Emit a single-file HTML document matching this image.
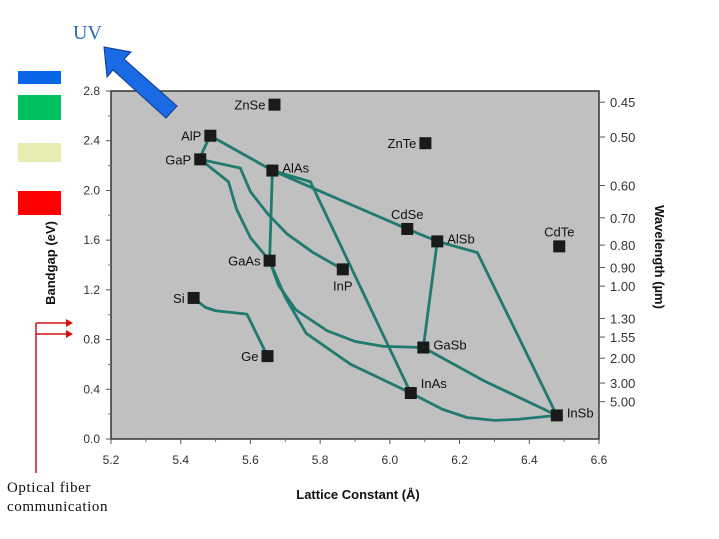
<!DOCTYPE html>
<html><head><meta charset="utf-8"><style>
body{margin:0;background:#fff;width:719px;height:539px;overflow:hidden}
svg{display:block}
</style></head><body>
<svg id="chart" width="719" height="539" font-family="Liberation Sans, Arial, sans-serif">
<rect x="18" y="71" width="43" height="13" fill="#0a66e8"/>
<rect x="18" y="95" width="43" height="25" fill="#00c060"/>
<rect x="18" y="143" width="43" height="19" fill="#e8ecb0"/>
<rect x="18" y="191" width="43" height="24" fill="#ff0000"/>
<text x="73" y="39" font-family="Liberation Serif, serif" font-size="20" fill="#2a6db5">UV</text>
<g stroke="#d01010" stroke-width="1.5" fill="#d01010">
<line x1="36" y1="323" x2="36" y2="473"/>
<line x1="36" y1="323" x2="66" y2="323"/><polygon points="66,319 73,323 66,327" stroke="none"/>
<line x1="36" y1="334" x2="66" y2="334"/><polygon points="66,330 73,334 66,338" stroke="none"/>
</g>
<text font-family="Liberation Serif, serif" font-size="15" letter-spacing="0.6" fill="#111"><tspan x="7" y="492">Optical fiber</tspan><tspan x="7" y="511">communication</tspan></text>
<rect x="111" y="91" width="488" height="348" fill="#c0c0c0" stroke="#333" stroke-width="1.5"/>
<g id="axes"></g>
<g id="curves"></g>
<g id="points"></g>
<polygon points="104,47 131,52 124,59 177,106 166,118 113,70 107,77" fill="#1a6ae6" stroke="#0d3c90" stroke-width="1"/>
<text transform="translate(55,263) rotate(-90)" text-anchor="middle" font-size="13" font-weight="bold" fill="#111">Bandgap (eV)</text>
<text transform="translate(655,257) rotate(90)" text-anchor="middle" font-size="13" font-weight="bold" fill="#111">Wavelength (µm)</text>
<text x="358" y="499" text-anchor="middle" font-size="13" font-weight="bold" fill="#111">Lattice Constant (Å)</text>
</svg>
<script>
const xTicks=[5.2,5.4,5.6,5.8,6.0,6.2,6.4,6.6];
const yTicks=[0.0,0.4,0.8,1.2,1.6,2.0,2.4,2.8];
const wlLabels=["0.45","0.50","0.60","0.70","0.80","0.90","1.00","1.30","1.55","2.00","3.00","5.00"];
const wlPos=[2.71,2.43,2.04,1.78,1.56,1.38,1.23,0.97,0.82,0.65,0.45,0.30];
const names=["ZnSe","AlP","GaP","AlAs","ZnTe","CdSe","AlSb","CdTe","GaAs","InP","Si","Ge","GaSb","InAs","InSb"];
const lattice=[5.669,5.485,5.456,5.663,6.102,6.05,6.136,6.486,5.655,5.865,5.437,5.649,6.096,6.06,6.479];
const gap=[2.69,2.44,2.25,2.16,2.38,1.69,1.59,1.55,1.435,1.365,1.135,0.667,0.736,0.37,0.19];
const labelSide=["L","L","L","R","L","T","R","T","L","B","L","L","R","TR","R"];
const curveX=[
[5.485,5.464,5.456],
[5.485,5.663],
[5.663,5.772,6.06],
[5.663,6.05,6.136,6.251,6.479],
[5.663,5.655],
[5.456,5.571,5.600,5.650,5.705,5.780,5.865],
[5.456,5.537,5.560,5.600,5.655],
[5.655,5.680,5.730,5.820,5.900,5.982,6.096],
[5.655,5.700,5.760,5.887,6.06],
[6.096,6.270,6.479],
[6.06,6.150,6.222,6.300,6.366,6.479],
[6.136,6.096],
[5.437,5.470,5.500,5.590,5.649]];
const curveY=[
[2.44,2.32,2.25],
[2.44,2.16],
[2.16,2.07,0.37],
[2.16,1.69,1.59,1.50,0.19],
[2.16,1.435],
[2.25,2.18,1.99,1.81,1.65,1.50,1.365],
[2.25,2.07,1.85,1.62,1.435],
[1.435,1.24,1.04,0.871,0.785,0.745,0.736],
[1.435,1.14,0.85,0.602,0.37],
[0.736,0.468,0.19],
[0.37,0.24,0.172,0.150,0.158,0.19],
[1.59,0.736],
[1.135,1.060,1.032,1.005,0.667]];
const X0=111,X1=599,Y0=439,Y1=91;
const sx=v=>X0+(v-5.2)/(6.6-5.2)*(X1-X0);
const sy=v=>Y0-(v-0)/(2.8-0)*(Y0-Y1);
const NS="http://www.w3.org/2000/svg";
function mk(tag,attrs,parent,txt){const e=document.createElementNS(NS,tag);for(const k in attrs)e.setAttribute(k,attrs[k]);if(txt!==undefined)e.textContent=txt;parent.appendChild(e);return e;}
const axes=document.getElementById('axes');
xTicks.forEach((t,i)=>{
 const l=mk('line',{x1:sx(t),x2:sx(t),y1:Y0,y2:Y0+5,stroke:'#555'},axes);
 
 
 const tx=mk('text',{x:sx(t),y:464,'text-anchor':'middle','font-size':12,fill:'#333'},axes,t.toFixed(1));
 
 
 if(i<xTicks.length-1){const m=mk('line',{x1:sx(t+0.1),x2:sx(t+0.1),y1:Y0,y2:Y0+3,stroke:'#777'},axes);
 
 }
});
yTicks.forEach((t,i)=>{
 const l=mk('line',{x1:X0-5,x2:X0,y1:sy(t),y2:sy(t),stroke:'#555'},axes);
 
 
 const tx=mk('text',{x:100,y:sy(t)+4,'text-anchor':'end','font-size':12,fill:'#333'},axes,t.toFixed(1));
 
 
 if(i<yTicks.length-1){const m=mk('line',{x1:X0-3,x2:X0,y1:sy(t+0.2),y2:sy(t+0.2),stroke:'#777'},axes);
 
 }
});
wlLabels.forEach((t,i)=>{
 const l=mk('line',{x1:X1,x2:X1+6,y1:sy(wlPos[i]),y2:sy(wlPos[i]),stroke:'#555'},axes);
 
 
 const tx=mk('text',{x:610,y:sy(wlPos[i])+5,'font-size':13,fill:'#333'},axes,t);
 
 
});
const cg=document.getElementById('curves');
curveX.forEach((xs,c)=>{
 const pts=xs.map((x,i)=>sx(x)+','+sy(curveY[c][i])).join(' ');
 const p=mk('polyline',{points:pts,fill:'none',stroke:'#1f7a70','stroke-width':2.8,'stroke-linecap':'round','stroke-linejoin':'round'},cg);
 
 
});
const pg=document.getElementById('points');
names.forEach((n,i)=>{
 const x=sx(lattice[i]),y=sy(gap[i]);
 const r=mk('rect',{x:x-6,y:y-6,width:12,height:12,fill:'#1a1a1a'},pg);
 
 
 let a={'font-size':13,fill:'#111'};const s=labelSide[i];
 if(s==='L'){a.x=x-9;a.y=y+5;a['text-anchor']='end';}
 else if(s==='R'){a.x=x+10;a.y=y+2;}
 else if(s==='T'){a.x=x;a.y=y-10;a['text-anchor']='middle';}
 else if(s==='B'){a.x=x;a.y=y+21;a['text-anchor']='middle';}
 else {a.x=x+10;a.y=y-5;}
 const t=mk('text',a,pg,n);
 
 
});
</script>
</body></html>
